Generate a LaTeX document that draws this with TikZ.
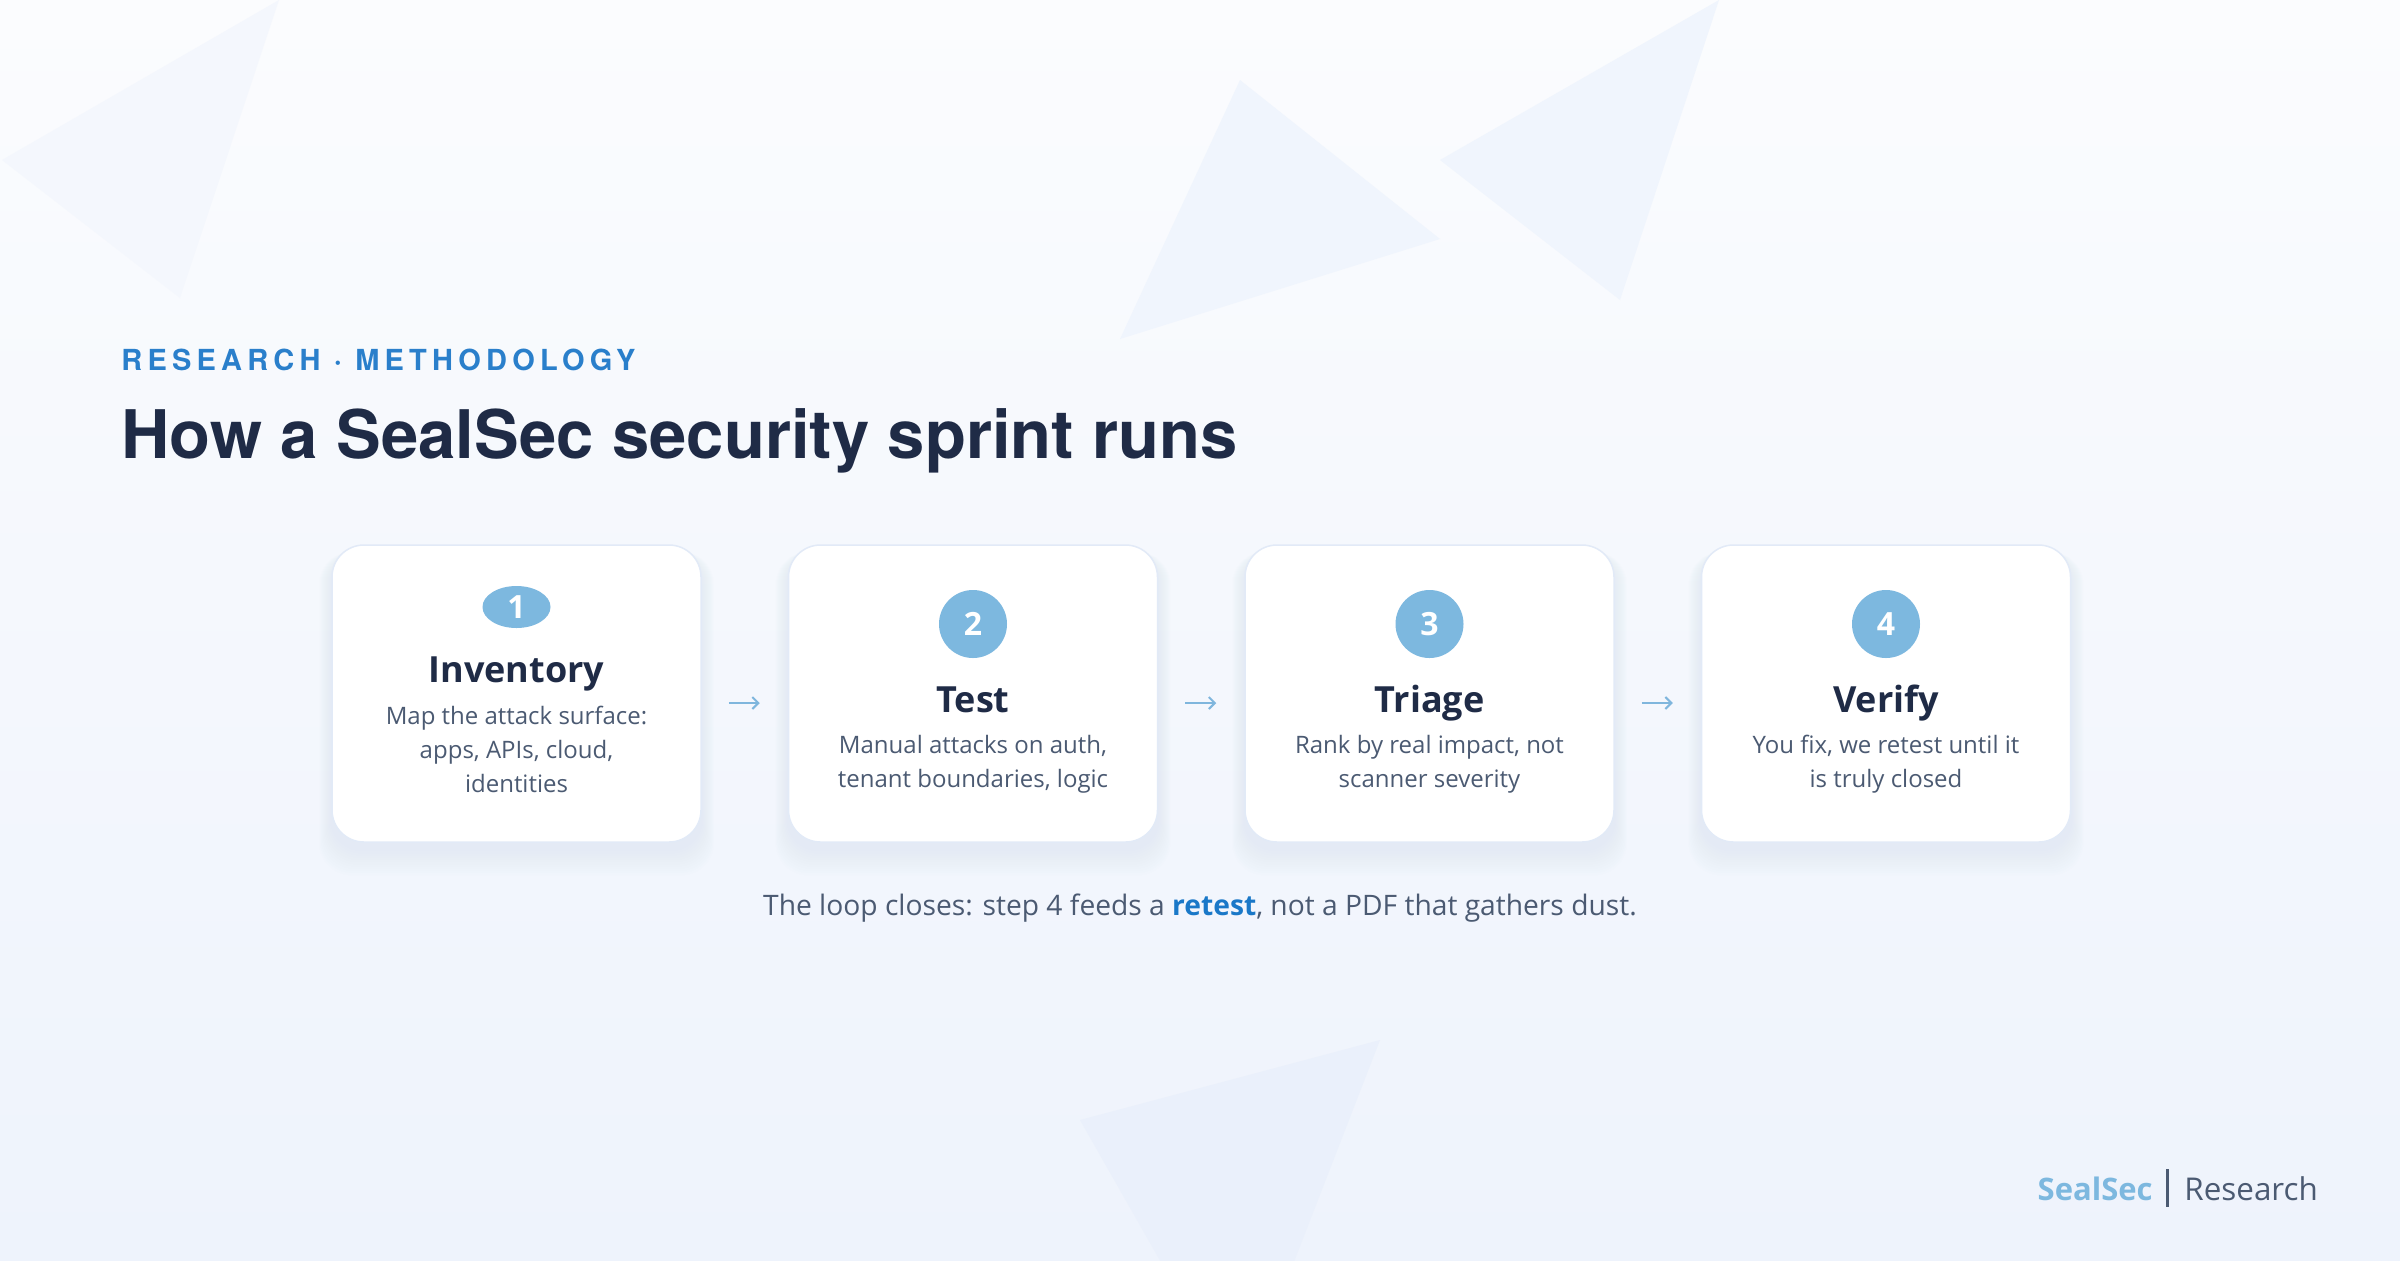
\documentclass[tikz,border=0pt]{standalone}
\usepackage{fontspec}
\IfFontExistsTF{Noto Sans Bold}
  {\setmainfont{Noto Sans}[BoldFont={Noto Sans Bold}]}
  {\setmainfont{Open Sans}}
\newfontfamily\headfont{TeX Gyre Heros}
\newfontfamily\kickfont[LetterSpace=18]{TeX Gyre Heros}
\usepackage{tikz}
\usetikzlibrary{positioning,calc,arrows.meta,shapes.geometric}

\definecolor{bgtop}{HTML}{FBFCFE}
\definecolor{bgbot}{HTML}{EEF3FC}
\definecolor{trifaint}{HTML}{F4F7FD}
\definecolor{trisoft}{HTML}{F0F5FD}
\definecolor{trilow}{HTML}{EAF0FB}
\definecolor{kickblue}{HTML}{2A7FCB}
\definecolor{inkdark}{HTML}{1F2B46}
\definecolor{inkmid}{HTML}{4B5A72}
\definecolor{badgeblue}{HTML}{7DB8DF}
\definecolor{arrowblue}{HTML}{7FB6DD}
\definecolor{cardline}{HTML}{E2EAF7}
\definecolor{glowblue}{HTML}{CFDFF5}
\definecolor{retestblue}{HTML}{1A78C8}

\pgfdeclarelayer{back}
\pgfdeclarelayer{glow}
\pgfsetlayers{back,glow,main}

\tikzset{
  card/.style={draw=cardline, line width=0.75pt, fill=white, rounded corners=16pt,
    minimum width=184.5pt, minimum height=148.5pt, inner sep=0pt},
  badge/.style={circle, fill=badgeblue, text=white, minimum size=34pt, inner sep=0pt,
    font=\fontsize{16}{16}\selectfont\bfseries},
  steptitle/.style={anchor=base, text=inkdark, inner sep=0pt,
    font=\fontsize{18}{18}\selectfont\bfseries},
  stepnote/.style={anchor=base, align=center, text=inkmid, inner sep=0pt,
    font=\fontsize{12}{17}\selectfont},
  flow/.style={draw=arrowblue, line width=1pt, -{Straight Barb[length=3pt,width=6pt]},
    shorten <=13.5pt, shorten >=14pt},
}

\begin{document}
\begin{tikzpicture}[x=0.5pt, y=-0.5pt]
  \useasboundingbox (0,0) rectangle (2400,1260);

  % background and shapes
  \begin{pgfonlayer}{back}
    \shade[top color=bgtop, bottom color=bgbot] (0,0) rectangle (2400,1260);
    \fill[trifaint] (2,160) -- (279,0) -- (180,298) -- cycle;
    \fill[trisoft] (1240,80) -- (1440,239) -- (1120,339) -- cycle;
    \fill[trisoft] (1719,0) -- (1440,160) -- (1620,300) -- cycle;
    \fill[trilow] (1080,1120) -- (1380,1040) -- (1240,1401) -- cycle;
  \end{pgfonlayer}

  % heading
  \node[anchor=base west, inner sep=0pt, text=kickblue,
    font=\kickfont\fontsize{14.5}{14.5}\selectfont\bfseries] (kicker) at (121,370)
    {RESEARCH · METHODOLOGY};
  \node[anchor=base west, inner sep=0pt, text=inkdark,
    font=\headfont\fontsize{33.5}{33.5}\selectfont\bfseries] (headline) at (121,458)
    {How a SealSec security sprint runs};

  % the four steps
  \node[card] (c1) at (516.5,693.5) {};
  \node[card, right=43pt of c1] (c2) {};
  \node[card, right=43pt of c2] (c3) {};
  \node[card, right=43pt of c3] (c4) {};

  \node[badge, ellipse, minimum height=21pt] (b1) at ($(c1)+(0,-86.5)$) {1};
  \node[badge] (b2) at ($(c2)+(0,-69.5)$) {2};
  \node[badge] (b3) at ($(c3)+(0,-69.5)$) {3};
  \node[badge] (b4) at ($(c4)+(0,-69.5)$) {4};

  \node[steptitle] (t1) at ($(c1)+(0,-11.5)$) {Inventory};
  \node[steptitle] (t2) at ($(c2)+(0,18.5)$) {Test};
  \node[steptitle] (t3) at ($(c3)+(0,18.5)$) {Triage};
  \node[steptitle] (t4) at ($(c4)+(0,18.5)$) {Verify};

  \node[stepnote] (d1) at ($(c1)+(0,98.5)$) {Map the attack surface:\\apps, APIs, cloud,\\identities};
  \node[stepnote] (d2) at ($(c2)+(0,93.5)$) {Manual attacks on auth,\\tenant boundaries, logic};
  \node[stepnote] (d3) at ($(c3)+(0,93.5)$) {Rank by real impact, not\\scanner severity};
  \node[stepnote] (d4) at ($(c4)+(0,93.5)$) {You fix, we retest until it\\is truly closed};

  \draw[flow] ([yshift=-4.75pt]c1.east) -- ([yshift=-4.75pt]c2.west);
  \draw[flow] ([yshift=-4.75pt]c2.east) -- ([yshift=-4.75pt]c3.west);
  \draw[flow] ([yshift=-4.75pt]c3.east) -- ([yshift=-4.75pt]c4.west);

  % soft glow under the cards
  \begin{pgfonlayer}{glow}
    \foreach \c in {c1,c2,c3,c4} {
      \foreach \s in {1,...,12} {
        \fill[glowblue, opacity=0.03, rounded corners=16pt]
          ([xshift=-0.5*\s pt, yshift=-4pt]\c.north west)
          rectangle ([xshift=0.5*\s pt, yshift=-3pt-1.1*\s pt]\c.south east);
      }
    }
  \end{pgfonlayer}

  % closing line
  \node[anchor=base, inner sep=0pt, text=inkmid, font=\fontsize{14.1}{14.1}\selectfont] (loop) at (1200,915)
    {The loop closes: step 4 feeds a \textcolor{retestblue}{\bfseries retest}, not a PDF that gathers dust.};

  % brand
  \node[anchor=base east, inner sep=0pt, text=badgeblue, font=\fontsize{15.5}{15.5}\selectfont\bfseries] (brand) at (2153,1200) {SealSec};
  \node[anchor=base west, inner sep=0pt, text=inkmid, font=\fontsize{15.7}{15.7}\selectfont] (section) at (2184,1200) {Research};
  \draw[inkmid, line width=1.5pt] (2167,1169) -- (2167,1207);
\end{tikzpicture}
\end{document}
